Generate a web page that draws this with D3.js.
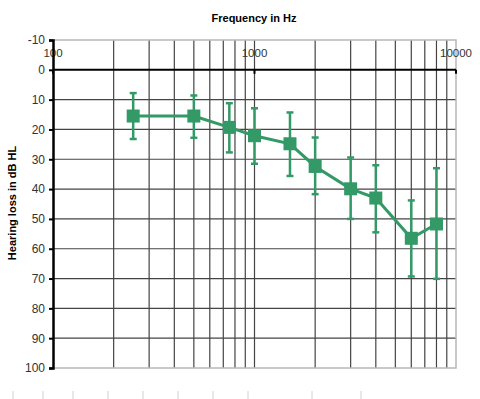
<!DOCTYPE html>
<html>
<head>
<meta charset="utf-8">
<script src="https://cdn.jsdelivr.net/npm/d3@7"></script>
<style>
body { margin: 0; background: #fff; }
svg text { font-family: Arial, "Liberation Sans", sans-serif; }
</style>
</head>
<body>
<div id="chart"></div>
<script>
// audiogram values
var freqs = [250, 500, 750, 1000, 1500, 2000, 3000, 4000, 6000, 8000]
var meanLoss = [15.5, 15.5, 19.3, 22.1, 24.8, 32.4, 39.9, 43, 56.5, 51.7]
var lowLoss = [7.8, 8.6, 11.2, 12.9, 14.3, 22.7, 29.4, 32, 43.8, 33]
var highLoss = [23.2, 22.8, 27.7, 31.5, 35.6, 41.7, 50, 54.5, 69.3, 70.1]
var yTicks = [-10, 0, 10, 20, 30, 40, 50, 60, 70, 80, 90, 100]
var xLabels = [100, 1000, 10000]

var width = 480
var height = 399
var green = "#339966"

var svg = d3.select("#chart")
	.append("svg")
	.attr("width", width)
	.attr("height", height)

var x = d3.scaleLog().domain([100, 10000]).range([53, 456])
var y = d3.scaleLinear().domain([-10, 100]).range([40, 368])

// minor log gridlines 200..9000
var gridX = []
for (var d = 100; d < 10000; d *= 10) {
	for (var k = 2; k <= 9; k++) gridX.push(d * k)
}
gridX.push(1000)

svg.selectAll(".vgrid")
	.data(gridX)
	.enter().append("line")
	.attr("x1", function(d) { return x(d) })
	.attr("x2", function(d) { return x(d) })
	.attr("y1", y(-10))
	.attr("y2", y(100))
	.attr("stroke", "#444")
	.attr("stroke-width", 1.2)

svg.selectAll(".hgrid")
	.data(yTicks.filter(function(t) { return t > 0 && t < 100 }))
	.enter().append("line")
	.attr("x1", x(100))
	.attr("x2", x(10000))
	.attr("y1", function(d) { return y(d) })
	.attr("y2", function(d) { return y(d) })
	.attr("stroke", "#444")
	.attr("stroke-width", 1.2)

// plot frame (top, right, bottom)
svg.append("path")
	.attr("d", "M" + x(100) + "," + y(-10) + "H" + x(10000) + "V" + y(100) + "H" + x(100))
	.attr("fill", "none")
	.attr("stroke", "#b8b8b8")
	.attr("stroke-width", 1.5)

// frequency labels sit inside the top band
svg.selectAll(".xlab")
	.data(xLabels)
	.enter().append("text")
	.attr("x", function(d) { return x(d) })
	.attr("y", 57)
	.attr("text-anchor", "middle")
	.attr("font-size", 11.5)
	.attr("fill", "#333")
	.text(function(d) { return d })

// the 0 dB axis line
svg.append("line")
	.attr("x1", x(100))
	.attr("x2", x(10000))
	.attr("y1", y(0))
	.attr("y2", y(0))
	.attr("stroke", "#000")
	.attr("stroke-width", 2)
svg.selectAll(".xtick")
	.data(xLabels)
	.enter().append("line")
	.attr("x1", function(d) { return x(d) })
	.attr("x2", function(d) { return x(d) })
	.attr("y1", y(0))
	.attr("y2", y(0) + 4)
	.attr("stroke", "#000")
	.attr("stroke-width", 2)

// left axis
var yAxis = d3.axisLeft(y)
	.tickValues(yTicks)
	.tickFormat(function(d) { return String(d) })
	.tickSize(4)
	.tickPadding(4)
var gy = svg.append("g")
	.attr("transform", "translate(" + x(100) + ",0)")
	.call(yAxis)
gy.select(".domain").attr("stroke", "#000").attr("stroke-width", 2.5)
gy.selectAll(".tick line").attr("stroke", "#000").attr("stroke-width", 2)
gy.selectAll(".tick text")
	.attr("font-size", 12)
	.attr("fill", "#333")
	.attr("font-family", "Arial, 'Liberation Sans', sans-serif")

// titles
svg.append("text")
	.attr("x", 254)
	.attr("y", 22)
	.attr("text-anchor", "middle")
	.attr("font-size", 11)
	.attr("font-weight", "bold")
	.text("Frequency in Hz")

svg.append("text")
	.attr("transform", "translate(16,203) rotate(-90)")
	.attr("text-anchor", "middle")
	.attr("font-size", 11)
	.attr("font-weight", "bold")
	.text("Hearing loss in dB HL")

// series
var pts = freqs.map(function(f, i) {
	return { f: f, m: meanLoss[i], lo: lowLoss[i], hi: highLoss[i] }
})

var bars = svg.selectAll(".err")
	.data(pts)
	.enter().append("g")
bars.append("line")
	.attr("x1", function(d) { return x(d.f) })
	.attr("x2", function(d) { return x(d.f) })
	.attr("y1", function(d) { return y(d.lo) })
	.attr("y2", function(d) { return y(d.hi) })
	.attr("stroke", green)
	.attr("stroke-width", 2.5)
bars.append("line")
	.attr("x1", function(d) { return x(d.f) - 3.5 })
	.attr("x2", function(d) { return x(d.f) + 3.5 })
	.attr("y1", function(d) { return y(d.lo) })
	.attr("y2", function(d) { return y(d.lo) })
	.attr("stroke", green)
	.attr("stroke-width", 2.5)
bars.append("line")
	.attr("x1", function(d) { return x(d.f) - 3.5 })
	.attr("x2", function(d) { return x(d.f) + 3.5 })
	.attr("y1", function(d) { return y(d.hi) })
	.attr("y2", function(d) { return y(d.hi) })
	.attr("stroke", green)
	.attr("stroke-width", 2.5)

var line = d3.line()
	.x(function(d) { return x(d.f) })
	.y(function(d) { return y(d.m) })

svg.append("path")
	.datum(pts)
	.attr("d", line)
	.attr("fill", "none")
	.attr("stroke", green)
	.attr("stroke-width", 3)

svg.selectAll(".marker")
	.data(pts)
	.enter().append("rect")
	.attr("x", function(d) { return x(d.f) - 6.5 })
	.attr("y", function(d) { return y(d.m) - 6.5 })
	.attr("width", 13)
	.attr("height", 13)
	.attr("fill", green)

// faint stubs cut off at the bottom edge
var stubs = [13, 43, 73, 108, 143, 178, 213, 248, 312, 361]
svg.selectAll(".stub")
	.data(stubs)
	.enter().append("line")
	.attr("x1", function(d) { return d })
	.attr("x2", function(d) { return d })
	.attr("y1", 391)
	.attr("y2", 399)
	.attr("stroke", "#d0d0d0")
	.attr("stroke-width", 1)
</script>
</body>
</html>
